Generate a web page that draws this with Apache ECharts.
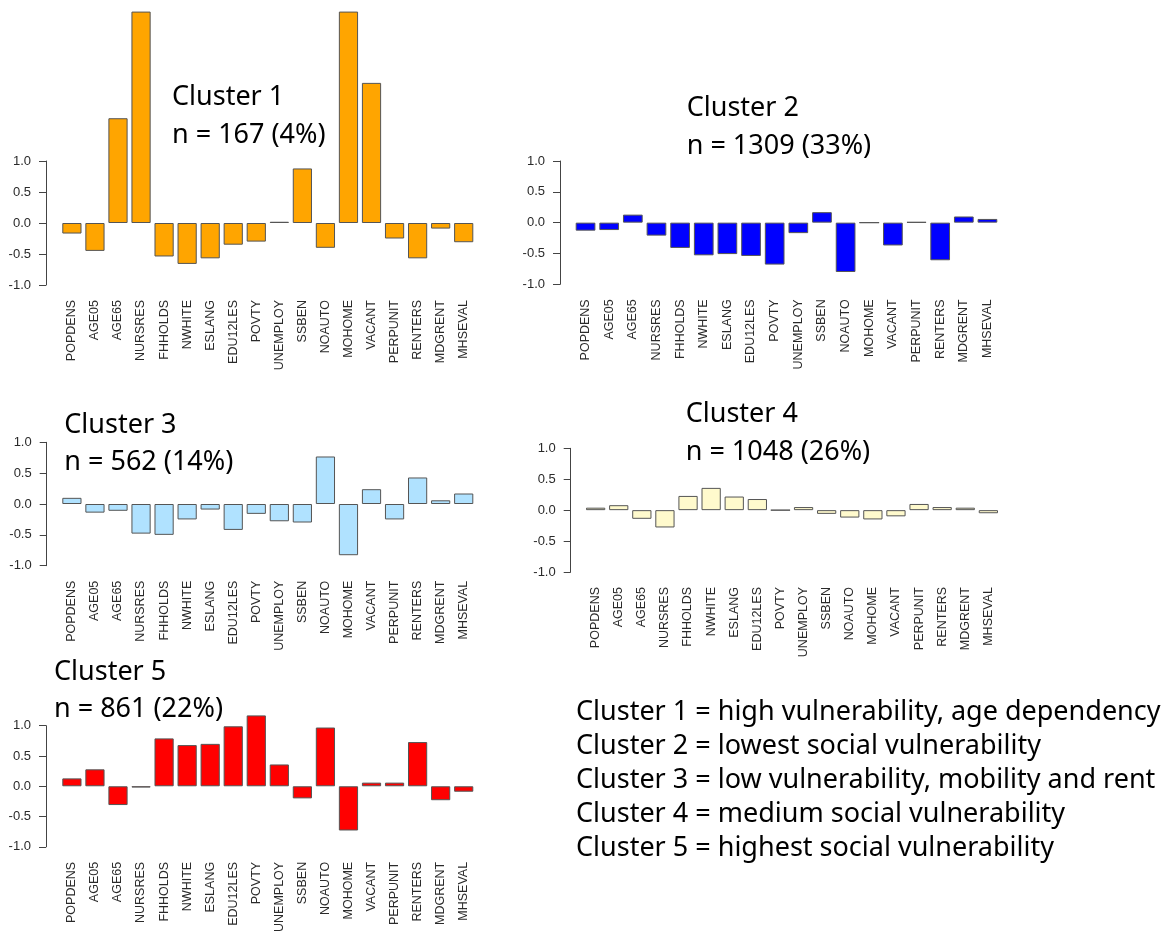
<!DOCTYPE html>
<html>
<head>
<meta charset="utf-8">
<script src="https://cdn.jsdelivr.net/npm/echarts@6/dist/echarts.min.js"></script>
<style>
html,body{margin:0;padding:0;background:#fff;}
#chart{width:1168px;height:935px;}
</style>
</head>
<body>
<div id="chart"></div>
<script>
// ---- data ----
const categories = ['POPDENS','AGE05','AGE65','NURSRES','FHHOLDS','NWHITE','ESLANG','EDU12LES','POVTY','UNEMPLOY','SSBEN','NOAUTO','MOHOME','VACANT','PERPUNIT','RENTERS','MDGRENT','MHSEVAL'];
const cluster1 = [-0.17,-0.45,1.69,3.41,-0.54,-0.66,-0.57,-0.35,-0.30,0.02,0.88,-0.40,3.41,2.26,-0.25,-0.57,-0.09,-0.31];
const cluster2 = [-0.13,-0.12,0.13,-0.21,-0.41,-0.53,-0.51,-0.54,-0.68,-0.17,0.17,-0.80,0.00,-0.37,0.01,-0.61,0.10,0.06];
const cluster3 = [0.10,-0.14,-0.11,-0.48,-0.50,-0.25,-0.09,-0.42,-0.16,-0.28,-0.30,0.77,-0.83,0.24,-0.25,0.43,0.06,0.17];
const cluster4 = [0.04,0.08,-0.14,-0.28,0.23,0.36,0.22,0.18,0.00,0.05,-0.06,-0.12,-0.15,-0.10,0.10,0.05,0.04,-0.05];
const cluster5 = [0.13,0.28,-0.31,-0.02,0.79,0.68,0.70,0.99,1.17,0.36,-0.20,0.97,-0.73,0.06,0.06,0.73,-0.23,-0.09];
const clusterNames = ['Cluster 1','Cluster 2','Cluster 3','Cluster 4','Cluster 5'];
const clusterCounts = ['n = 167 (4%)','n = 1309 (33%)','n = 562 (14%)','n = 1048 (26%)','n = 861 (22%)'];
const descriptions = [
  'Cluster 1 = high vulnerability, age dependency',
  'Cluster 2 = lowest social vulnerability',
  'Cluster 3 = low vulnerability, mobility and rent',
  'Cluster 4 = medium social vulnerability',
  'Cluster 5 = highest social vulnerability'
];
const yTicks = [-1.0, -0.5, 0.0, 0.5, 1.0];

// ---- layout / style ----
const seriesData = [cluster1, cluster2, cluster3, cluster4, cluster5];
const colors = ['#FFA500','#0000FF','#B0E2FF','#FFFACD','#FF0000'];
const panels = [
  {axisX:46,   top:161,   bottom:285,   barL:62.3,  barR:473.3, tx:172,   ty1:108.5, ty2:146},
  {axisX:560,  top:161,   bottom:284.3, barL:575.7, barR:997.3, tx:686.7, ty1:119.5, ty2:157},
  {axisX:46.7, top:442.3, bottom:565.7, barL:62.3,  barR:473.3, tx:64.3,  ty1:436,   ty2:473.5},
  {axisX:570.7,top:448.3, bottom:572,   barL:586,   barR:998,   tx:685.7, ty1:425.5, ty2:463},
  {axisX:46,   top:725.7, bottom:849,   barL:62.3,  barR:473.3, tx:54,    ty1:683,   ty2:720}
];
const bigFont = 'Noto Sans';
const bigSize = 27;
const baseOff = 0.4 * bigSize; // baseline offset from 'middle'

const grids = [], xAxes = [], yAxes = [], series = [], graphics = [];
panels.forEach((p, i) => {
  const unit = (p.barR - p.barL) / 21.4;
  const gl = p.barL - unit * 0.1;
  const gw = unit * 1.2 * categories.length;
  grids.push({left: gl, width: gw, top: p.top, height: p.bottom - p.top, containLabel: false});
  xAxes.push({
    type: 'category', gridIndex: i, data: categories,
    axisLine: {show: false, onZero: false}, axisTick: {show: false},
    axisLabel: {rotate: 90, interval: 0, margin: 15, fontFamily: 'Liberation Sans', fontSize: 12.5, color: '#2a2a2a'},
    splitLine: {show: false}
  });
  yAxes.push({
    type: 'value', gridIndex: i, min: yTicks[0], max: yTicks[yTicks.length-1], interval: 0.5,
    offset: gl - p.axisX,
    axisLine: {show: true, onZero: false, lineStyle: {color: '#444', width: 1}},
    axisTick: {show: true, length: 7, lineStyle: {color: '#444'}},
    axisLabel: {margin: 15, fontFamily: 'Liberation Sans', fontSize: 13, color: '#2a2a2a',
      formatter: v => v.toFixed(1)},
    splitLine: {show: false}
  });
  series.push({
    type: 'bar', xAxisIndex: i, yAxisIndex: i, data: seriesData[i],
    barCategoryGap: '16.667%', clip: false, silent: true,
    itemStyle: {color: colors[i], borderColor: '#555', borderWidth: 1}
  });
  graphics.push({type: 'text', z: 100, style: {text: clusterNames[i], x: p.tx, y: p.ty1 - baseOff,
    font: bigSize + 'px "' + bigFont + '"', fill: '#000', textVerticalAlign: 'middle'}});
  graphics.push({type: 'text', z: 100, style: {text: clusterCounts[i], x: p.tx, y: p.ty2 - baseOff,
    font: bigSize + 'px "' + bigFont + '"', fill: '#000', textVerticalAlign: 'middle'}});
});
descriptions.forEach((d, k) => {
  graphics.push({type: 'text', z: 100, style: {text: d, x: 576, y: 723.5 + k * 34 - baseOff,
    font: bigSize + 'px "' + bigFont + '"', fill: '#000', textVerticalAlign: 'middle'}});
});

const chart = echarts.init(document.getElementById('chart'), null, {renderer: 'canvas'});
chart.setOption({
  animation: false,
  backgroundColor: '#fff',
  grid: grids, xAxis: xAxes, yAxis: yAxes, series: series,
  graphic: graphics
});
</script>
</body>
</html>
